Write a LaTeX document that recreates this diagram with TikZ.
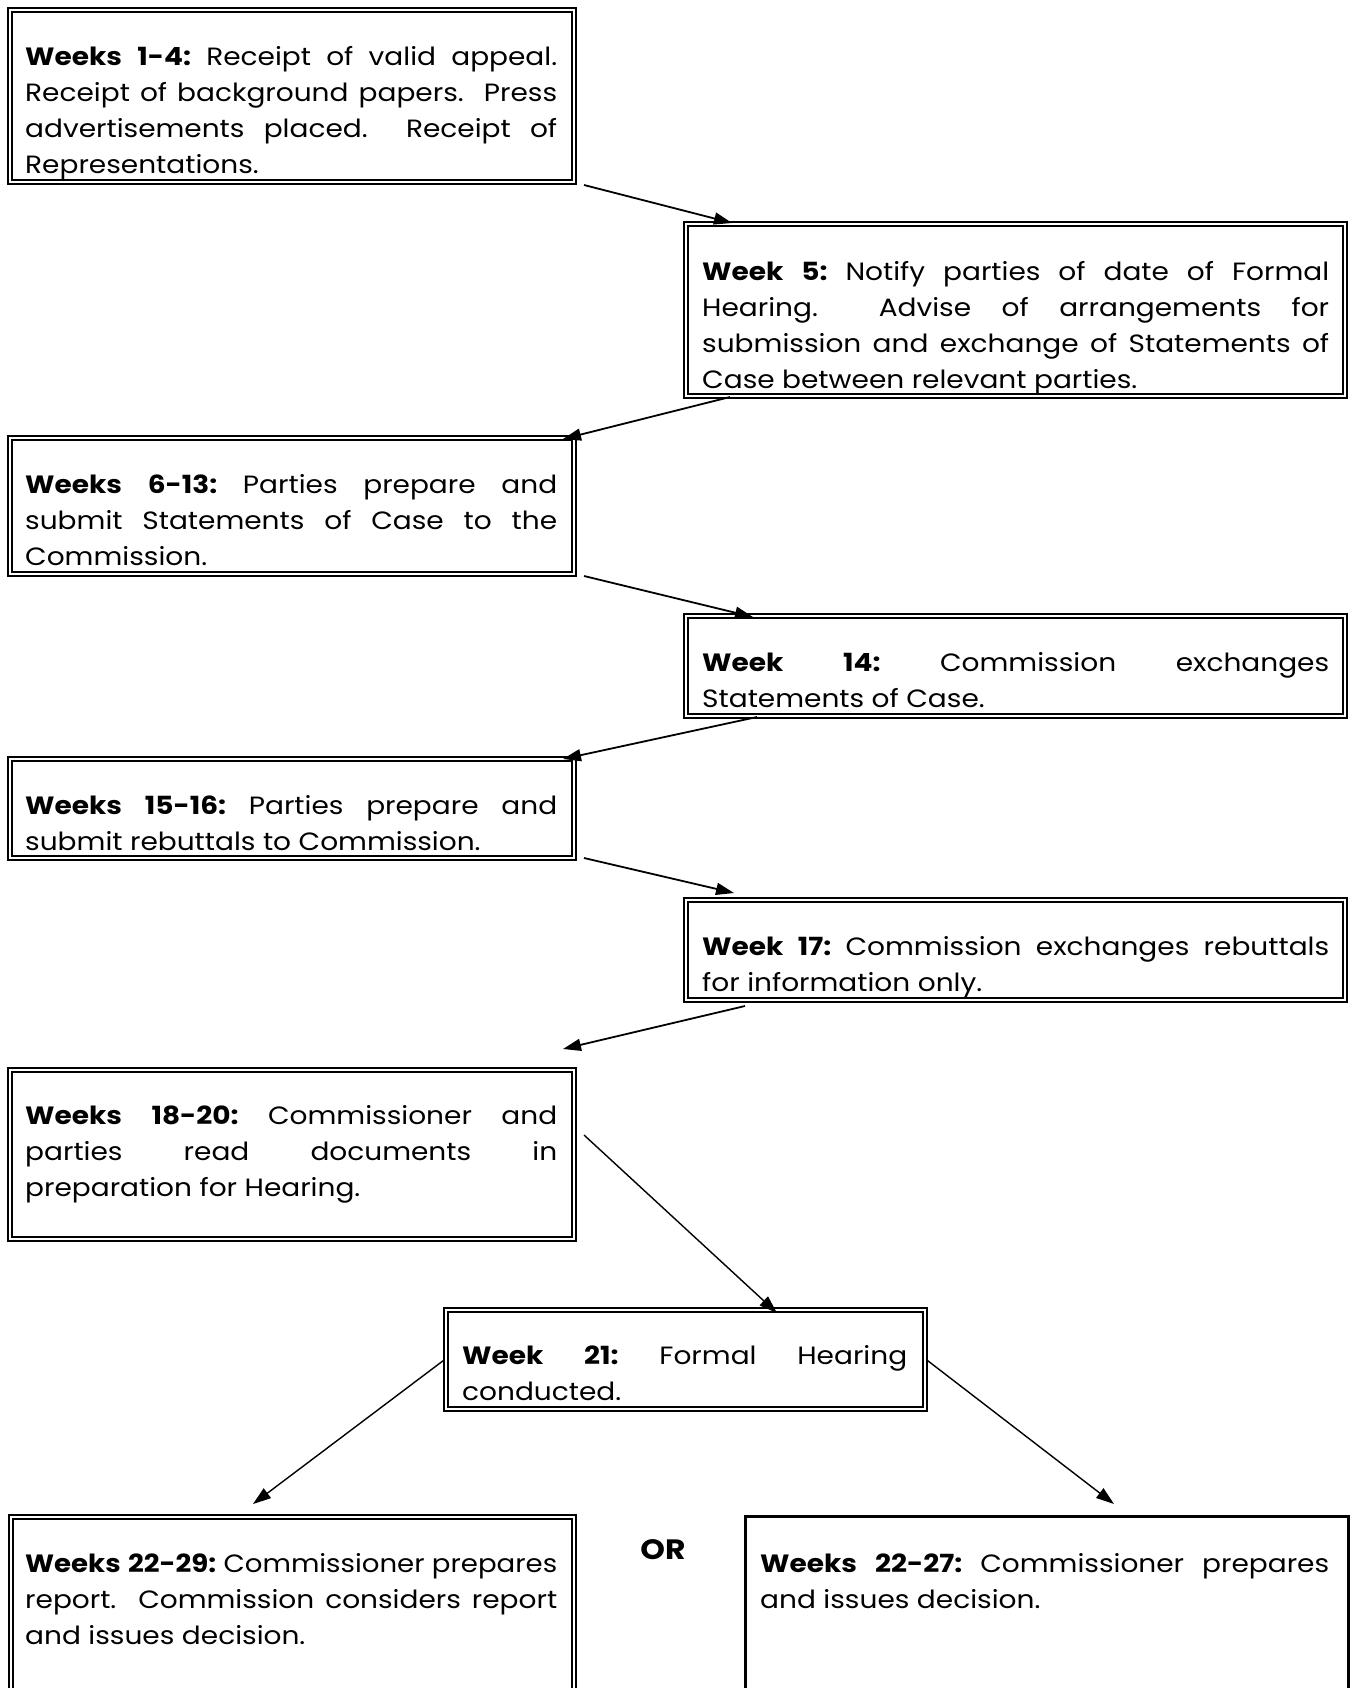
\documentclass[tikz,border=0pt]{standalone}
\usepackage{fontspec}
\usepackage{graphicx}
\setmainfont{Poppins}[FakeStretch=1.12]
\usetikzlibrary{arrows.meta,calc}
\newcommand\J[1]{{\frenchspacing\spaceskip=0.3em plus 1fil minus 0.1em\makebox[\LW][s]{#1}}}
\newcommand\Jfit[1]{\resizebox{\LW}{\height}{#1}}
\begin{document}
\begin{tikzpicture}[x=1pt,y=-1pt,
  dbox/.style={draw, line width=1.9pt, double=white, double distance=2pt, inner sep=0pt, anchor=north west},
  txt/.style={anchor=north west, inner sep=0pt, align=left, text width=#1pt,
    execute at begin node={\fontsize{25}{36}\selectfont\frenchspacing\spaceskip=0.3em plus 0.1em minus 0.05em\def\LW{#1pt}}},
  arr/.style={line width=1.8pt, -{Triangle[length=18pt,width=12pt]}},
  arrthin/.style={line width=1.4pt, -{Triangle[length=18pt,width=12pt]}},
]
\clip (0,0) rectangle (1354,1688);
\useasboundingbox (0,0) rectangle (1354,1688);

% boxes
\node[dbox, minimum width=564.4pt, minimum height=172.4pt] (b1) at (8.8,8.8) {};
\node[dbox, minimum width=659.4pt, minimum height=172.4pt] (b2) at (684.8,222.8) {};
\node[dbox, minimum width=564.4pt, minimum height=136.4pt] (b3) at (8.8,436.8) {};
\node[dbox, minimum width=659.4pt, minimum height=100.4pt] (b4) at (684.8,614.8) {};
\node[dbox, minimum width=564.4pt, minimum height=99.4pt] (b5) at (8.8,757.8) {};
\node[dbox, minimum width=659.4pt, minimum height=100.4pt] (b6) at (684.8,898.8) {};
\node[dbox, minimum width=564.4pt, minimum height=169.4pt] (b7) at (8.8,1068.8) {};
\node[dbox, minimum width=479.4pt, minimum height=99.4pt] (b8) at (444.8,1308.8) {};
\node[dbox, minimum width=563.4pt, minimum height=250pt] (b9) at (9.8,1515.8) {};
\node[draw, line width=3.3pt, inner sep=0pt, anchor=north west, minimum width=603pt, minimum height=250pt] (b10) at (743.6,1514.6) {};

% texts
\node[txt=532] (t1) at (25,39.8) {\strut\J{\textbf{Weeks 1-4:} Receipt of valid appeal.}\\
\J{Receipt of background papers.\ \ Press}\\
\J{advertisements placed.\ \ Receipt of}\\
Representations.};
\node[txt=627] (t2) at (702,254.8) {\strut\J{\textbf{Week 5:} Notify parties of date of Formal}\\
\J{Hearing.\ \ Advise of arrangements for}\\
\J{submission and exchange of Statements of}\\
Case between relevant parties.};
\node[txt=532] (t3) at (25,467.8) {\strut\J{\textbf{Weeks 6-13:} Parties prepare and}\\
\J{submit Statements of Case to the}\\
Commission.};
\node[txt=627] (t4) at (702,645.8) {\strut\J{\textbf{Week 14:} Commission exchanges}\\
Statements of Case.};
\node[txt=532] (t5) at (25,788.8) {\strut\J{\textbf{Weeks 15-16:} Parties prepare and}\\
submit rebuttals to Commission.};
\node[txt=627] (t6) at (702,929.8) {\strut\J{\textbf{Week 17:} Commission exchanges rebuttals}\\
for information only.};
\node[txt=532] (t7) at (25,1098.8) {\strut\J{\textbf{Weeks 18-20:} Commissioner and}\\
\J{parties read documents in}\\
preparation for Hearing.};
\node[txt=445] (t8) at (462,1338.8) {\strut\J{\textbf{Week 21:} Formal Hearing}\\
conducted.};
\node[txt=532] (t9) at (25,1546.8) {\strut\Jfit{\textbf{Weeks 22-29:} Commissioner prepares}\\
\J{report.\ \ Commission considers report}\\
and issues decision.};
\node[txt=569] (t10) at (760,1546.8) {\strut\J{\textbf{Weeks 22-27:} Commissioner prepares}\\
and issues decision.};
\node[anchor=base, inner sep=0pt, font=\fontsize{28}{34}\selectfont\bfseries] (or) at (663,1559) {OR};

% arrow end points
\coordinate (a1s) at (584,185);  \coordinate (a1e) at (732,223);
\coordinate (a2s) at (730,397);  \coordinate (a2e) at (563,439);
\coordinate (a3s) at (584,576);  \coordinate (a3e) at (753,617);
\coordinate (a4s) at (757,717);  \coordinate (a4e) at (563,759);
\coordinate (a5s) at (584,858);  \coordinate (a5e) at (734,893);
\coordinate (a6s) at (745,1006); \coordinate (a6e) at (563,1049);
\coordinate (a7s) at (584,1135); \coordinate (a7e) at (777,1313);
\coordinate (a8s) at (b8.west);  \coordinate (a8e) at (253,1504);
\coordinate (a9s) at (b8.east);  \coordinate (a9e) at (1114,1504);

\draw[arr] (a1s) -- (a1e);
\draw[arr] (a2s) -- (a2e);
\draw[arr] (a3s) -- (a3e);
\draw[arr] (a4s) -- (a4e);
\draw[arr] (a5s) -- (a5e);
\draw[arr] (a6s) -- (a6e);
\draw[arrthin] (a7s) -- (a7e);
\draw[arrthin] (a8s) -- (a8e);
\draw[arrthin] (a9s) -- (a9e);
\end{tikzpicture}
\end{document}
